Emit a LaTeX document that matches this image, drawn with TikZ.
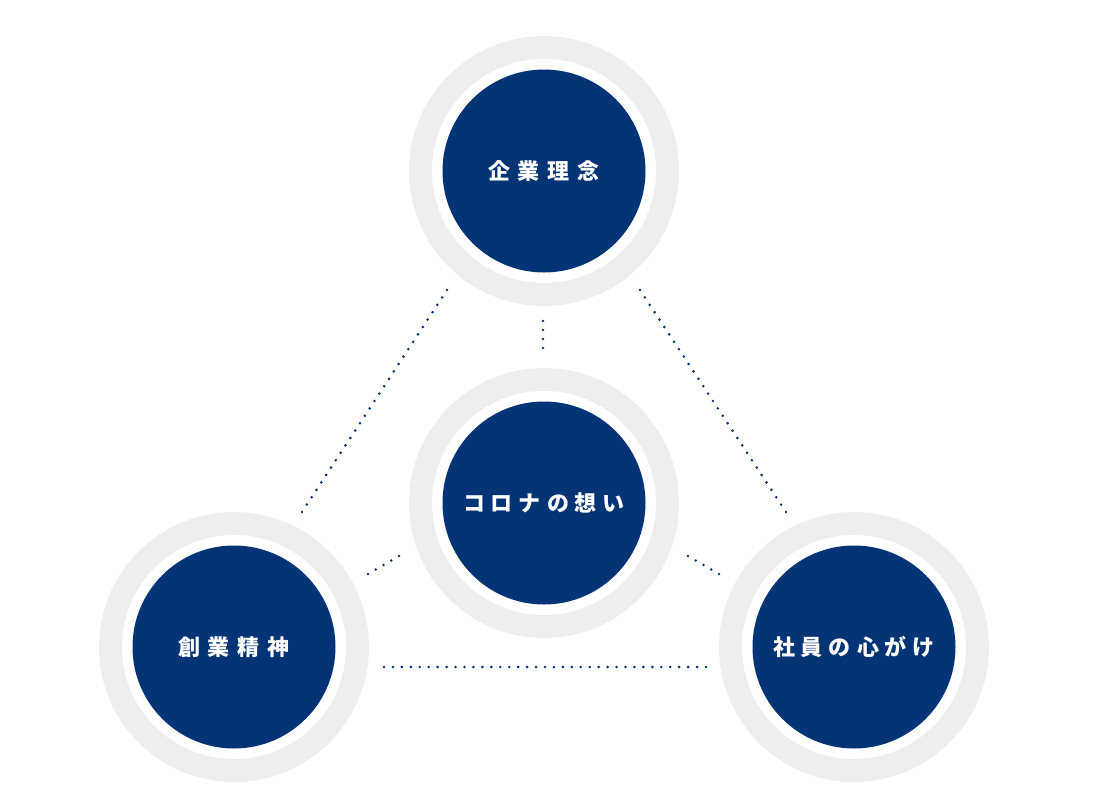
\documentclass[tikz,border=0pt]{standalone}
\usepackage{fontspec}
\newfontfamily\jp{Noto Sans CJK JP}
\usetikzlibrary{calc}
\definecolor{navy}{RGB}{5,52,118}
\definecolor{ringgray}{RGB}{237,239,238}
\tikzset{
  ring/.style={circle, fill=ringgray, minimum size=270pt, inner sep=0pt},
  gapring/.style={circle, fill=white, minimum size=224pt, inner sep=0pt},
  core/.style={circle, fill=navy, minimum size=203pt, inner sep=0pt, text=white,
    font=\jp\bfseries\fontsize{22}{26}\selectfont},
  dotc/.style={fill=navy}
}
\newcommand\gp{\hspace{8pt}}
\newcommand\gk{\hspace{6pt}}
\newcommand\mydots[3]{\foreach \i in {0,...,#3}{\fill[dotc] ($(#1)!{\i/#3}!(#2)$) circle (1.45pt);}}
\begin{document}
\begin{tikzpicture}[x=1pt,y=-1pt]
\useasboundingbox (0,0) rectangle (1093,801);
% rings
\foreach \n/\x/\y in {T/544/171, C/544/503, L/234/647, R/854/647}{
  \node[ring] (ring\n) at (\x,\y) {};
  \node[gapring] (gap\n) at (\x,\y) {};
}
\node[core] (top) at (544,171) {企\gp 業\gp 理\gp 念};
\node[core] (mid) at (544,503) {コ\gk ロ\gk ナ\gk の\gk 想\gk い};
\node[core] (left) at (234,647) {創\gp 業\gp 精\gp 神};
\node[core] (right) at (854,647) {社\gk 員\gk の\gk 心\gk が\gk け};
% dotted connector ends
\coordinate (tl) at (447,290);
\coordinate (lt) at (302,512);
\coordinate (tr) at (640,290);
\coordinate (rt) at (786,512);
\coordinate (lr) at (384,667);
\coordinate (rl) at (706,667);
\coordinate (tm) at (543,321);
\coordinate (mt) at (543,348);
\coordinate (lm) at (368,574);
\coordinate (ml) at (399,556);
\coordinate (mr) at (688,556);
\coordinate (rm) at (719,574);
\mydots{tl}{lt}{30}
\mydots{tr}{rt}{30}
\mydots{lr}{rl}{36}
\mydots{tm}{mt}{3}
\mydots{lm}{ml}{4}
\mydots{mr}{rm}{4}
\end{tikzpicture}
\end{document}
